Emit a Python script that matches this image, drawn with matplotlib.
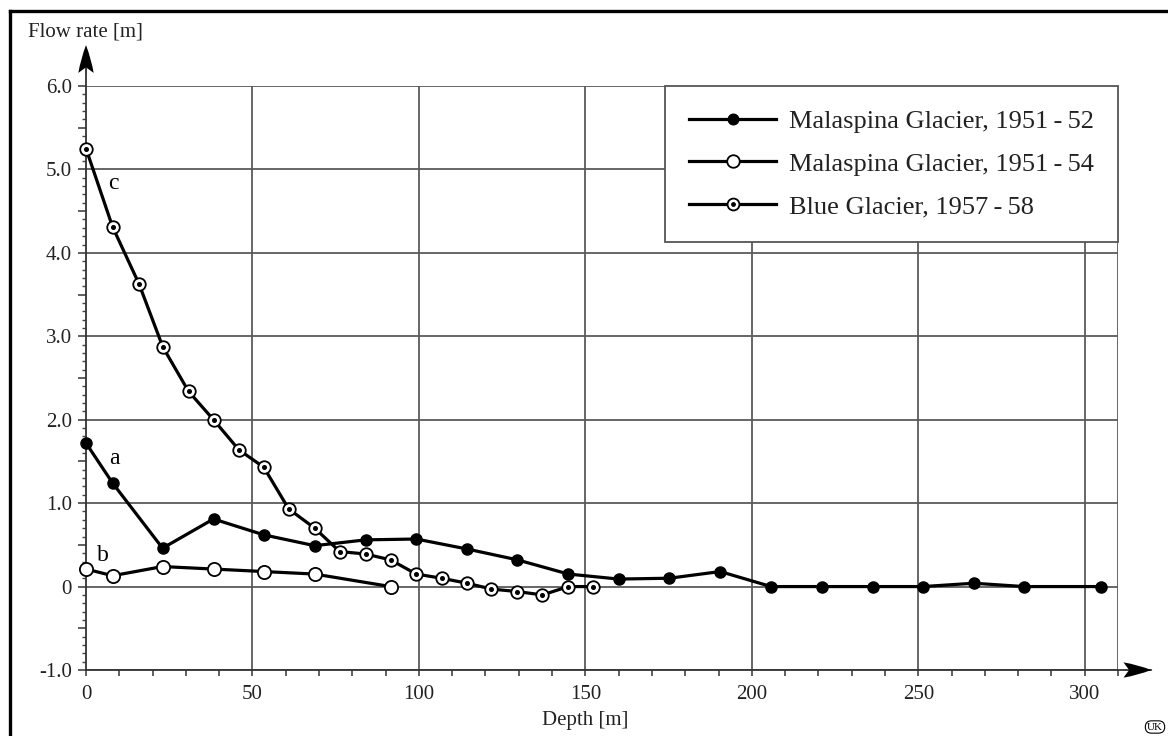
import matplotlib
matplotlib.use("Agg")
import matplotlib.pyplot as plt
from matplotlib.lines import Line2D
from matplotlib.legend_handler import HandlerTuple
from matplotlib.ticker import MultipleLocator, FixedLocator, FuncFormatter

plt.rcParams['font.family'] = ['Liberation Serif', 'DejaVu Serif']

# ---- data ----
depth_a = [0, 8, 23, 38.3, 53.4, 68.7, 84, 99.2, 114.5, 129.6, 144.9, 160, 175.2,
           190.5, 205.8, 221, 236.3, 251.4, 266.7, 281.8, 304.8]
flow_a = [1.72, 1.24, 0.46, 0.81, 0.62, 0.49, 0.56, 0.57, 0.45, 0.32, 0.15, 0.09, 0.10,
          0.18, 0.0, 0.0, 0.0, 0.0, 0.04, 0.0, 0.0]

depth_b = [0, 8, 23, 38.3, 53.4, 68.7, 91.5]
flow_b = [0.21, 0.13, 0.24, 0.21, 0.18, 0.15, 0.0]

depth_c = [0, 8, 15.9, 23.1, 30.8, 38.3, 45.9, 53.4, 60.9, 68.7, 76.2, 84, 91.5, 99.2,
           106.8, 114.5, 121.8, 129.6, 137.1, 144.9, 152.4]
flow_c = [5.25, 4.31, 3.63, 2.87, 2.34, 2.0, 1.64, 1.43, 0.93, 0.70, 0.42, 0.39, 0.32, 0.15,
          0.10, 0.04, -0.03, -0.06, -0.10, 0.0, 0.0]

labels = ["Malaspina Glacier, 1951\u2009-\u200952",
          "Malaspina Glacier, 1951\u2009-\u200954",
          "Blue Glacier, 1957\u2009-\u200958"]
x_ticks = [0, 50, 100, 150, 200, 250, 300]
y_ticks = [-1, 0, 1, 2, 3, 4, 5, 6]

fig = plt.figure(figsize=(11.68, 7.36), dpi=100)
ax = fig.add_axes([86/1168, 1-670/736, (1118-86)/1168, (670-86)/736])
ax.set_xlim(0, 310)
ax.set_ylim(-1, 6)

grid_c = '#5a5a5a'
for xv in x_ticks[1:] + [310]:
    ax.axvline(xv, color=grid_c, lw=1.3, zorder=0.5)
for yv in y_ticks:
    ax.axhline(yv, color=grid_c, lw=1.3, zorder=0.5)

for s in ax.spines.values():
    s.set_visible(False)

# axes with arrows
ax.annotate('', xy=(320, -1), xytext=(0, -1), annotation_clip=False,
            arrowprops=dict(arrowstyle='-', color='#333333', lw=1.3, shrinkA=0, shrinkB=0))
ax.annotate('', xy=(0, 6.45), xytext=(0, -1), annotation_clip=False,
            arrowprops=dict(arrowstyle='-', color='#333333', lw=1.3, shrinkA=0, shrinkB=0))
ax.annotate('', xy=(320, -1), xytext=(312, -1), annotation_clip=False,
            arrowprops=dict(arrowstyle='fancy,head_length=1.0,head_width=0.55,tail_width=0.01',
                            mutation_scale=20, color='black', lw=0, shrinkA=0, shrinkB=0))
ax.annotate('', xy=(0, 6.49), xytext=(0, 6.2), annotation_clip=False,
            arrowprops=dict(arrowstyle='fancy,head_length=1.0,head_width=0.55,tail_width=0.01',
                            mutation_scale=20, color='black', lw=0, shrinkA=0, shrinkB=0))

# ticks
ax.xaxis.set_major_locator(FixedLocator(x_ticks))
ax.xaxis.set_minor_locator(MultipleLocator(10))
ax.yaxis.set_major_locator(MultipleLocator(0.5))
ax.yaxis.set_minor_locator(MultipleLocator(0.1))

def yfmt(v, pos):
    if abs(v - round(v)) > 1e-6:
        return ''
    if abs(v) < 1e-6:
        return '0'
    return '%.1f' % v
ax.yaxis.set_major_formatter(FuncFormatter(yfmt))
ax.tick_params(axis='x', which='both', direction='out', length=4, width=1.2, color='#444444',
               labelsize=15, pad=7, labelcolor='#222222')
ax.tick_params(axis='y', which='major', direction='out', length=6, width=1.2, color='#444444',
               labelsize=15, pad=4, labelcolor='#222222')
ax.tick_params(axis='y', which='minor', direction='out', length=3, width=1.0, color='#444444')

# data
lw = 2.3
h1, = ax.plot(depth_a, flow_a, '-o', color='black', mfc='black', mec='black', ms=8, lw=lw,
              zorder=3, clip_on=False)
h2, = ax.plot(depth_b, flow_b, '-o', color='black', mfc='white', mec='black', ms=9.5, mew=1.3,
              lw=lw, zorder=3, clip_on=False)
h3, = ax.plot(depth_c, flow_c, '-o', color='black', mfc='white', mec='black', ms=9, mew=1.3,
              lw=lw, zorder=4, clip_on=False)
h3d, = ax.plot(depth_c, flow_c, 'o', color='black', ms=2.6, ls='none', zorder=5, clip_on=False)

ax.text(8.4, 1.54, 'a', fontsize=17, ha='center', va='center')
ax.text(5.1, 0.37, 'b', fontsize=17, ha='center', va='center')
ax.text(8.1, 4.83, 'c', fontsize=17, ha='center', va='center')

leg = ax.legend([h1, h2, (h3, h3d)], labels, handler_map={tuple: HandlerTuple(ndivide=1)},
                loc='upper right', bbox_to_anchor=(1, 1), borderaxespad=0, fontsize=19,
                frameon=True, fancybox=False, framealpha=1, edgecolor='#555555',
                handlelength=3.3, handletextpad=0.5, borderpad=0.9, labelspacing=0.72,
                markerscale=0.95)
leg.get_frame().set_linewidth(1.3)
leg.set_zorder(10)
for t in leg.get_texts():
    t.set_color('#222222')

fig.text(28/1168, 1-32/736, 'Flow rate [m]', fontsize=15, ha='left', va='center', color='#222222')
fig.text(585/1168, 1-720/736, 'Depth [m]', fontsize=15, ha='center', va='center', color='#222222')
fig.text(1155/1168, 1-727/736, 'UK', fontsize=8, ha='center', va='center',
         bbox=dict(boxstyle='round,pad=0.15,rounding_size=0.55', fc='white', ec='black', lw=0.8))

# outer frame (left and top edges visible)
fig.add_artist(Line2D([10/1168, 10/1168], [0, 1-10.5/736], transform=fig.transFigure,
                      color='black', lw=2.4))
fig.add_artist(Line2D([10/1168, 1], [1-10.5/736, 1-10.5/736], transform=fig.transFigure,
                      color='black', lw=2.4))

fig.savefig('out.png', dpi=100)
